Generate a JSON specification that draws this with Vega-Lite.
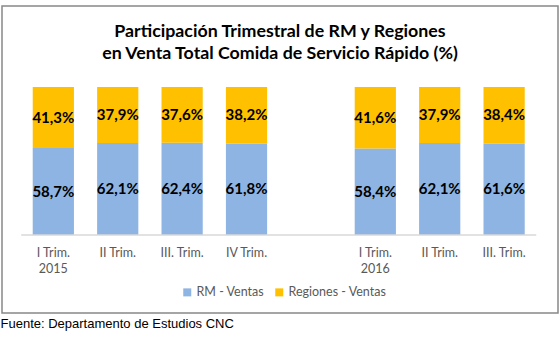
{
  "$schema": "https://vega.github.io/schema/vega-lite/v6.json",
  "width": 556,
  "height": 307,
  "autosize": {"type": "none"},
  "padding": {"left": 2, "top": 6, "right": 2, "bottom": 25},
  "background": "white",
  "config": {
    "locale": {"number": {"decimal": ",", "thousands": ".", "grouping": [3], "currency": ["", "$"]}},
    "view": {"stroke": "#888888", "strokeWidth": 1.5},
    "font": "Lato"
  },
  "title": {
    "text": ["Participación Trimestral de RM y Regiones", "en Venta Total Comida de Servicio Rápido (%)"],
    "font": "Lato",
    "fontSize": 17.8,
    "fontWeight": "bold",
    "color": "#000000",
    "lineHeight": 22,
    "anchor": "middle",
    "frame": "group",
    "offset": -57
  },
  "data": {
    "values": [
      {"trim": "I Trim.|2015", "serie": "RM - Ventas", "share": 0.587},
      {"trim": "I Trim.|2015", "serie": "Regiones - Ventas", "share": 0.413},
      {"trim": "II Trim.", "serie": "RM - Ventas", "share": 0.621},
      {"trim": "II Trim.", "serie": "Regiones - Ventas", "share": 0.379},
      {"trim": "III. Trim.", "serie": "RM - Ventas", "share": 0.624},
      {"trim": "III. Trim.", "serie": "Regiones - Ventas", "share": 0.376},
      {"trim": "IV Trim.", "serie": "RM - Ventas", "share": 0.618},
      {"trim": "IV Trim.", "serie": "Regiones - Ventas", "share": 0.382},
      {"trim": "I Trim.|2016", "serie": "RM - Ventas", "share": 0.584},
      {"trim": "I Trim.|2016", "serie": "Regiones - Ventas", "share": 0.416},
      {"trim": "II Trim. ", "serie": "RM - Ventas", "share": 0.621},
      {"trim": "II Trim. ", "serie": "Regiones - Ventas", "share": 0.379},
      {"trim": "III. Trim. ", "serie": "RM - Ventas", "share": 0.616},
      {"trim": "III. Trim. ", "serie": "Regiones - Ventas", "share": 0.384}
    ]
  },
  "encoding": {
    "x": {
      "field": "trim",
      "type": "nominal",
      "sort": null,
      "scale": {
        "domain": ["I Trim.|2015", "II Trim.", "III. Trim.", "IV Trim.", " ", "I Trim.|2016", "II Trim. ", "III. Trim. "],
        "paddingInner": 0.36,
        "paddingOuter": 0.497,
        "align": 0.48
      },
      "axis": {
        "domain": false,
        "ticks": false,
        "labelAngle": 0,
        "labelExpr": "split(trim(datum.label), '|')",
        "labelFont": "Lato",
        "labelFontSize": 12.5,
        "labelColor": "#595959",
        "labelPadding": 11,
        "labelLineHeight": 16,
        "offset": -78,
        "title": "Fuente: Departamento de Estudios CNC",
        "titleFont": "Liberation Sans",
        "titleFontSize": 13,
        "titleFontWeight": "normal",
        "titleColor": "#000000",
        "titleX": -2,
        "titleY": 92,
        "titleAlign": "left",
        "titleAnchor": "start",
        "titleBaseline": "alphabetic"
      }
    }
  },
  "layer": [
    {
      "mark": {"type": "bar"},
      "encoding": {
        "y": {
          "field": "share",
          "type": "quantitative",
          "stack": "zero",
          "scale": {"domain": [-0.527, 1.547], "nice": false, "zero": false},
          "axis": null
        },
        "order": {"field": "serie", "sort": "ascending"},
        "color": {
          "field": "serie",
          "type": "nominal",
          "scale": {"domain": ["RM - Ventas", "Regiones - Ventas"], "range": ["#8DB4E2", "#FFC000"]},
          "legend": {
            "orient": "none",
            "legendX": 179,
            "legendY": 280,
            "direction": "horizontal",
            "title": null,
            "symbolType": "square",
            "symbolSize": 64,
            "symbolStrokeWidth": 0,
            "labelFont": "Lato",
            "labelFontSize": 12.5,
            "labelColor": "#595959",
            "columnPadding": 8,
            "labelOffset": 3
          }
        }
      }
    },
    {
      "mark": {"type": "text", "fontWeight": "bold", "fontSize": 15, "font": "Lato", "color": "#000000"},
      "encoding": {
        "y": {"field": "share", "type": "quantitative", "stack": "zero", "bandPosition": 0.5},
        "order": {"field": "serie", "sort": "ascending"},
        "detail": {"field": "serie"},
        "text": {"field": "share", "type": "quantitative", "format": ".1%"}
      }
    },
    {
      "data": {"values": [{}]},
      "mark": {"type": "rule", "color": "#d9d9d9", "strokeWidth": 1.5},
      "encoding": {
        "y": {"datum": 0, "type": "quantitative"},
        "x": {"datum": "I Trim.|2015", "bandPosition": -0.28},
        "x2": {"datum": "III. Trim. ", "bandPosition": 1.28}
      }
    }
  ]
}
